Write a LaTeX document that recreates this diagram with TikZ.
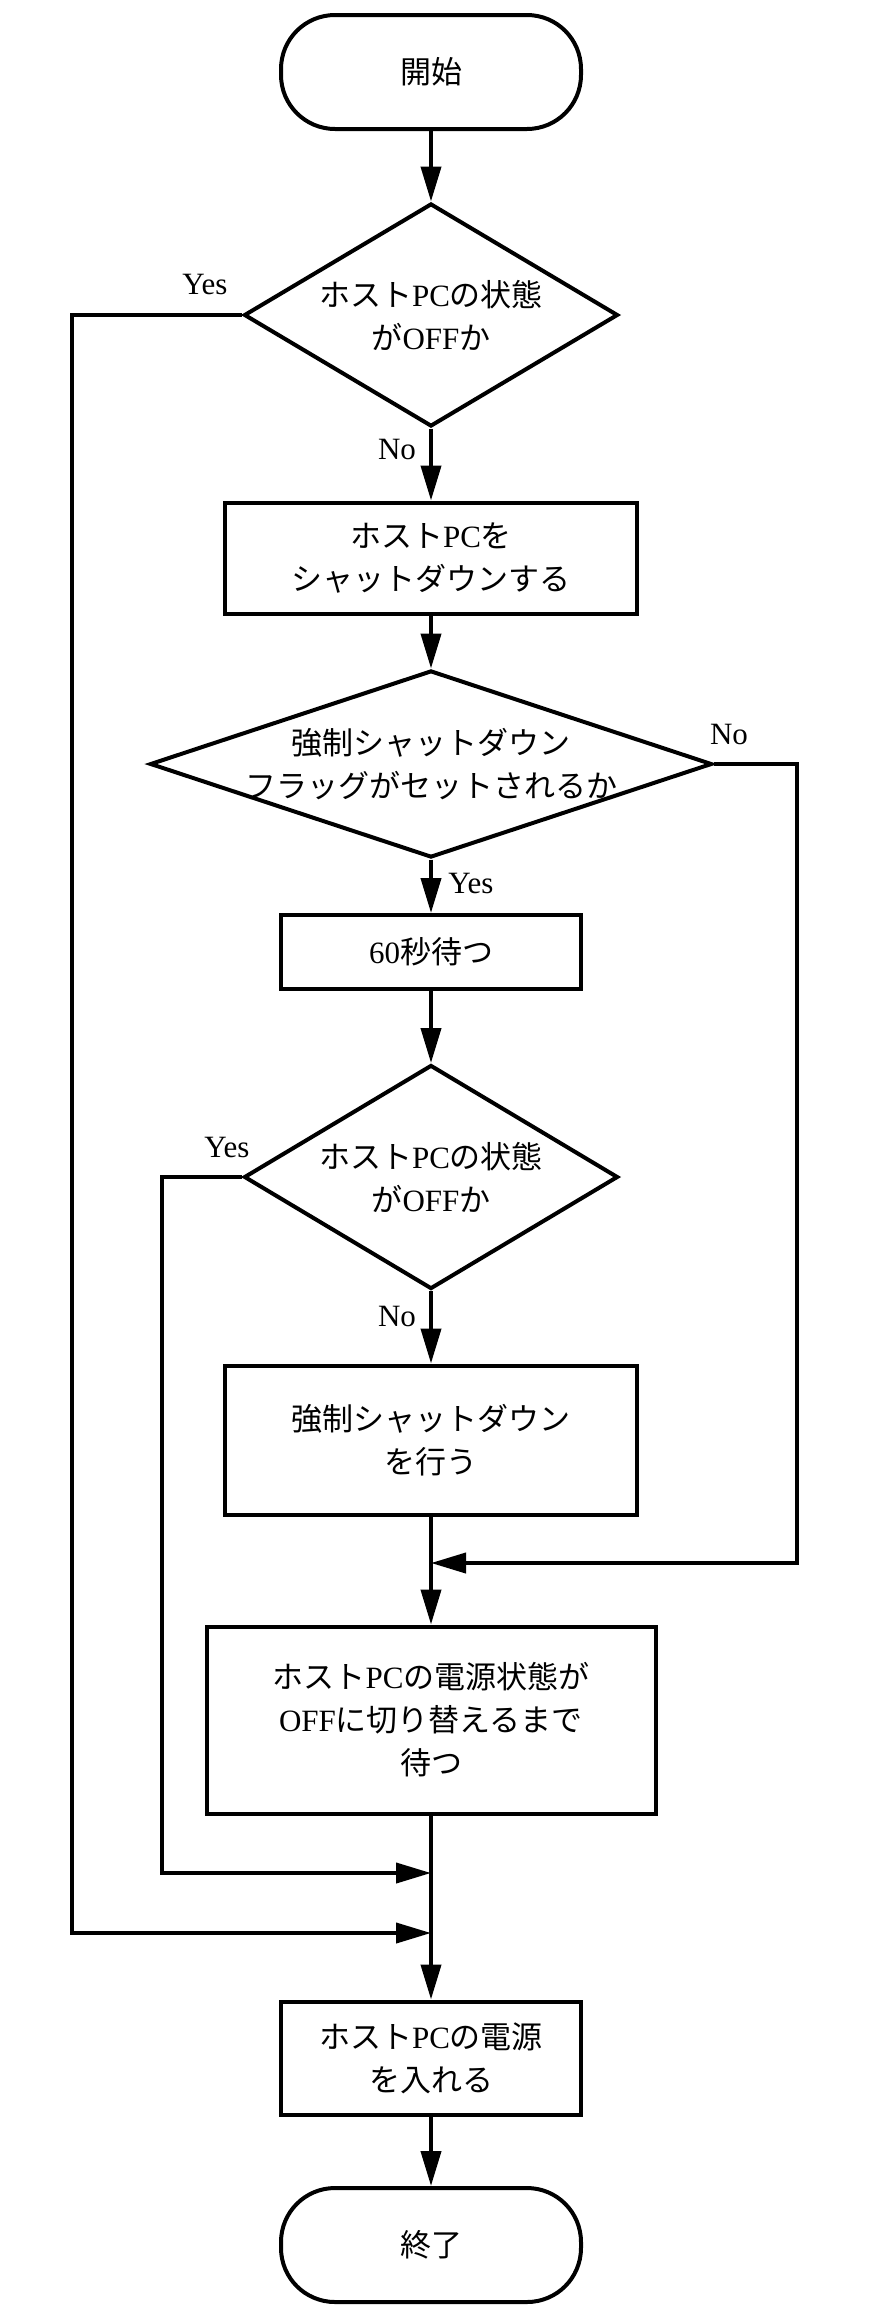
\documentclass[tikz,border=0pt]{standalone}
\usepackage{fontspec}
\setmainfont{Liberation Serif}
\newfontfamily\jp{Noto Sans CJK JP}
\usetikzlibrary{shapes.geometric,arrows.meta}
\newcommand\en[1]{{\rmfamily #1}}

\tikzset{
	flowline/.style={line width=2pt},
	flowarrow/.style={flowline,-{Triangle[length=17.5pt,width=10pt]}},
	jptext/.style={align=center,inner sep=0pt,font=\fontsize{15.5pt}{21.5pt}\selectfont\jp},
	proc/.style 2 args={draw,flowline,jptext,minimum width=#1,minimum height=#2},
	term/.style={proc={150pt}{57pt},rounded corners=27pt},
	decide/.style n args={3}{draw,flowline,diamond,inner sep=0pt,minimum width=#1,minimum height=#2,
		label={[jptext]center:#3}},
	lbl/.style={inner sep=0pt,font=\fontsize{15.5pt}{18pt}\selectfont}
}

\begin{document}
\begin{tikzpicture}[x=0.5pt,y=-0.5pt]
		\useasboundingbox (0,0) rectangle (868,2319);
		\node[term] (start) at (431,72) {開始};
		\node[decide={187pt}{111.5pt}{ホスト\en{PC}の状態\\が\en{OFF}か}] (d1) at (431,315) {};
		\node[proc={206pt}{55.5pt}] (b1) at (431,558) {ホスト\en{PC}を\\シャットダウンする};
		\node[decide={281pt}{93.5pt}{強制シャットダウン\\フラッグがセットされるか}] (d2) at (431,764) {};
		\node[proc={150pt}{37pt}] (b2) at (431,952) {\en{60}秒待つ};
		\node[decide={187pt}{112pt}{ホスト\en{PC}の状態\\が\en{OFF}か}] (d3) at (431,1177) {};
		\node[proc={206pt}{74.5pt}] (b3) at (431,1440) {強制シャットダウン\\を行う};
		\node[proc={224.5pt}{93.5pt}] (b4) at (431,1720) {ホスト\en{PC}の電源状態が\\\en{OFF}に切り替えるまで\\待つ};
		\node[proc={150pt}{56.5pt}] (b5) at (431,2058) {ホスト\en{PC}の電源\\を入れる};
		\node[term] (stop) at (431,2245) {終了};
		\coordinate (j1) at (431,1563);
		\coordinate (j2) at (431,1873);
		\coordinate (j3) at (431,1933);
		\node[lbl] (yes1) at (205,284) {Yes};
		\node[lbl] (no1) at (397,449) {No};
		\node[lbl] (no2) at (729,734) {No};
		\node[lbl] (yes2) at (471,883) {Yes};
		\node[lbl] (yes3) at (227,1147) {Yes};
		\node[lbl] (no3) at (397,1316) {No};
		\draw[flowarrow] (start) -- (d1);
		\draw[flowarrow] (d1) -- (b1);
		\draw[flowarrow] (b1) -- (d2);
		\draw[flowarrow] (d2) -- (b2);
		\draw[flowarrow] (b2) -- (d3);
		\draw[flowarrow] (d3) -- (b3);
		\draw[flowline] (b3) -- (j1);
		\draw[flowarrow] (j1) -- (b4);
		\draw[flowarrow] (b4) -- (b5);
		\draw[flowarrow] (b5) -- (stop);
		\draw[flowarrow] (d1.west) -- ++(-170,0) |- (j3);
		\draw[flowarrow] (d3.west) -- ++(-80,0) |- (j2);
		\draw[flowarrow] (d2.east) -- ++(83,0) |- (j1);
	\end{tikzpicture}
\end{document}
